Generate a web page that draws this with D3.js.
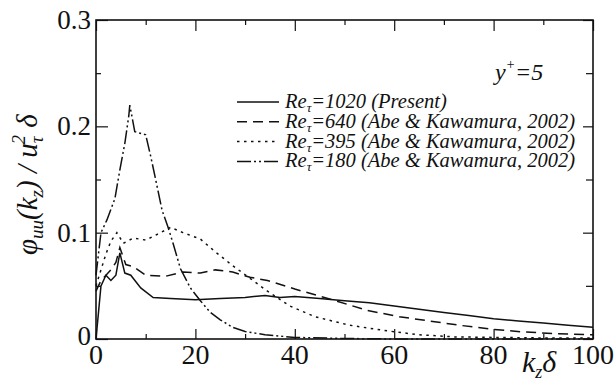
<!DOCTYPE html>
<html>
<head>
<meta charset="utf-8">
<script src="https://cdn.jsdelivr.net/npm/d3@7"></script>
<style>
  body { margin: 0; background: #fff; }
</style>
</head>
<body>
<svg id="chart" width="614" height="383" font-family="'Liberation Serif', 'DejaVu Serif', serif"></svg>
<script>
// data
var kz1020 = [0, 1, 2, 3, 4, 4.8, 5.8, 7, 9, 11.5, 15, 20, 25, 30, 34, 37, 40, 45, 50, 55, 60, 65, 70, 75, 80, 85, 90, 95, 100];
var re1020 = [0, 0.05, 0.06, 0.055, 0.06, 0.081, 0.062, 0.06, 0.048, 0.039, 0.038, 0.037, 0.038, 0.039, 0.041, 0.039, 0.040, 0.038, 0.036, 0.034, 0.031, 0.028, 0.025, 0.022, 0.019, 0.017, 0.015, 0.013, 0.011];

var kz640 = [0, 1, 2, 3, 4, 4.8, 6, 7.5, 10, 14, 17.5, 21, 24, 27.5, 31, 34.5, 40, 47.5, 54.5, 61, 67, 73, 80, 86, 93, 100];
var re640 = [0.045, 0.055, 0.06, 0.065, 0.072, 0.086, 0.07, 0.068, 0.06, 0.059, 0.063, 0.062, 0.065, 0.063, 0.058, 0.055, 0.047, 0.037, 0.027, 0.021, 0.017, 0.013, 0.009, 0.0066, 0.005, 0.004];

var kz395 = [0, 1, 2, 3, 4.2, 5.5, 7.5, 10, 13, 15, 17.5, 21, 24, 27.5, 31, 34.5, 39, 44, 51, 58, 65, 72, 80, 90, 100];
var re395 = [0.05, 0.065, 0.08, 0.092, 0.1, 0.09, 0.095, 0.093, 0.1, 0.105, 0.1, 0.094, 0.082, 0.069, 0.057, 0.045, 0.031, 0.021, 0.013, 0.008, 0.004, 0.002, 0.0015, 0.001, 0.001];

var kz180 = [0, 1, 2.2, 3.8, 4.8, 5.8, 6.6, 6.8, 7.8, 10, 11, 12, 13.3, 14.5, 15.5, 17, 19, 21, 23, 25, 27.5, 30, 34, 40, 50, 60, 80, 100];
var re180 = [0.06, 0.1, 0.112, 0.132, 0.159, 0.184, 0.21, 0.22, 0.195, 0.192, 0.172, 0.15, 0.121, 0.105, 0.09, 0.066, 0.048, 0.036, 0.025, 0.018, 0.011, 0.007, 0.004, 0.0015, 0.0005, 0, 0, 0];

var xTicks = [0, 20, 40, 60, 80, 100];
var yTicks = [0, 0.1, 0.2, 0.3];

var series = [
  {re: "1020", note: "(Present)", k: kz1020, v: re1020, dash: null},
  {re: "640", note: "(Abe & Kawamura, 2002)", k: kz640, v: re640, dash: "10,6"},
  {re: "395", note: "(Abe & Kawamura, 2002)", k: kz395, v: re395, dash: "2.5,4.5"},
  {re: "180", note: "(Abe & Kawamura, 2002)", k: kz180, v: re180, dash: "14,3,2,3,2,3"}
];

var svg = d3.select("#chart");
var mL = 96, mR = 593, mT = 20, mB = 339;

var x = d3.scaleLinear().domain([0, 100]).range([mL, mR]);
var y = d3.scaleLinear().domain([0, 0.3]).range([mB, mT]);

var ink = "#111";

// ticks, inward on all four sides
function tickAxis(axis, pos, len) {
  var g = svg.append("g").attr("transform", pos);
  g.call(axis.tickSize(len).tickFormat("").tickSizeOuter(0));
  g.select(".domain").remove();
  g.selectAll("line").attr("stroke", ink).attr("stroke-width", 1.2);
  return g;
}
var minorX = [10, 30, 50, 70, 90];
var minorY = [0.05, 0.15, 0.25];
tickAxis(d3.axisTop(x).tickValues(minorX), "translate(0," + mB + ")", 5);
tickAxis(d3.axisTop(x).tickValues(xTicks), "translate(0," + mB + ")", 10);
tickAxis(d3.axisBottom(x).tickValues(minorX), "translate(0," + mT + ")", 5);
tickAxis(d3.axisBottom(x).tickValues(xTicks), "translate(0," + mT + ")", 11);
tickAxis(d3.axisRight(y).tickValues(minorY), "translate(" + mL + ",0)", 5);
tickAxis(d3.axisRight(y).tickValues(yTicks), "translate(" + mL + ",0)", 12);
tickAxis(d3.axisLeft(y).tickValues(minorY), "translate(" + mR + ",0)", 7);
tickAxis(d3.axisLeft(y).tickValues(yTicks), "translate(" + mR + ",0)", 10);

// frame
svg.append("rect")
  .attr("x", mL).attr("y", mT)
  .attr("width", mR - mL).attr("height", mB - mT)
  .attr("fill", "none").attr("stroke", ink).attr("stroke-width", 1.6);

// tick labels
svg.selectAll(".xl").data(xTicks).enter().append("text")
  .attr("x", function (d) { return x(d); })
  .attr("y", 364)
  .attr("text-anchor", "middle")
  .attr("font-size", 28).attr("fill", ink)
  .text(function (d) { return d; });

svg.selectAll(".yl").data(yTicks).enter().append("text")
  .attr("x", 91)
  .attr("y", function (d) { return y(d) + (d === 0 ? 6 : 9); })
  .attr("text-anchor", "end")
  .attr("font-size", 27).attr("fill", ink)
  .text(function (d) { return d === 0 ? "0" : d3.format(".1f")(d); });

// curves
var line = d3.line()
  .x(function (d) { return x(d[0]); })
  .y(function (d) { return y(d[1]); });

series.forEach(function (s) {
  svg.append("path")
    .datum(s.k.map(function (k, i) { return [k, s.v[i]]; }))
    .attr("d", line)
    .attr("fill", "none")
    .attr("stroke", ink)
    .attr("stroke-width", 1.5)
    .attr("stroke-dasharray", s.dash);
});

// legend
var leg = svg.append("g");
series.forEach(function (s, i) {
  var ly = 102 + i * 19.8;
  leg.append("line")
    .attr("x1", 237).attr("x2", 279).attr("y1", ly).attr("y2", ly)
    .attr("stroke", ink).attr("stroke-width", 1.5)
    .attr("stroke-dasharray", s.dash);
  var t = leg.append("text")
    .attr("x", 285).attr("y", ly + 6)
    .attr("font-size", 20.5).attr("font-style", "italic").attr("fill", ink);
  t.append("tspan").text("Re");
  t.append("tspan").attr("font-size", 13).attr("dy", 4).text("τ");
  t.append("tspan").attr("dy", -4).text("=" + s.re + " " + s.note);
});

// y+ = 5
var yp = svg.append("text").attr("x", 495).attr("y", 80)
  .attr("font-size", 24).attr("font-style", "italic").attr("fill", ink);
yp.append("tspan").text("y");
yp.append("tspan").attr("font-size", 14).attr("dy", -11).text("+");
yp.append("tspan").attr("dy", 11).text("=5");

// x axis title
var xt = svg.append("text").attr("x", 522).attr("y", 372)
  .attr("font-size", 30).attr("font-style", "italic").attr("fill", ink);
xt.append("tspan").text("k");
xt.append("tspan").attr("font-size", 18).attr("dy", 6).text("z");
xt.append("tspan").attr("dy", -6).text("δ");

// y axis title
var yt = svg.append("text")
  .attr("transform", "translate(37,255) rotate(-90)")
  .attr("font-size", 29).attr("font-style", "italic").attr("fill", ink);
yt.append("tspan").text("φ");
yt.append("tspan").attr("font-size", 19).attr("dy", 6).text("uu");
yt.append("tspan").attr("dy", -6).text("(k");
yt.append("tspan").attr("font-size", 19).attr("dy", 6).text("z");
yt.append("tspan").attr("dy", -6).text(") / u");
yt.append("tspan").attr("font-size", 19).attr("dy", 6).text("τ");
yt.append("tspan").attr("font-size", 19).attr("dx", -8).attr("dy", -18).text("2");
yt.append("tspan").attr("dy", 12).text(" δ");
</script>
</body>
</html>
